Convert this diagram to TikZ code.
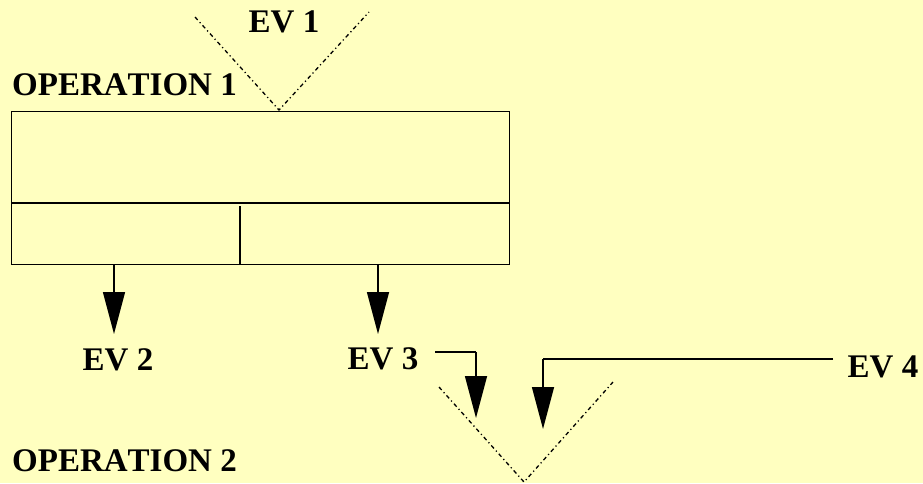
\documentclass[tikz,border=0pt]{standalone}
\usepackage{fontspec}
\setmainfont[Kerning=Off]{Liberation Serif}
\usetikzlibrary{arrows.meta}
\definecolor{bgyellow}{RGB}{255,255,192}
\begin{document}
\begin{tikzpicture}[x=1pt,y=-1pt,
  lbl/.style={font=\fontsize{33}{37}\selectfont\bfseries, inner sep=0pt},
  boxline/.style={line width=1.4pt},
  flow/.style={line width=1.4pt, -{Triangle[length=42pt,width=22pt]}},
  vline/.style={line width=1.3pt, dash pattern=on 4pt off 3pt on 1.2pt off 3pt},
  plain/.style={line width=1.4pt}]
\fill[bgyellow] (0,0) rectangle (923,483);
\useasboundingbox (0,0) rectangle (923,483);

% labels
\node[lbl] (ev1) at (284,22) {EV 1};
\node[lbl, anchor=west] (op1t) at (12,85) {OPERATION 1};
\node[lbl, anchor=west] (op2t) at (12,461) {OPERATION 2};
\node[lbl] (ev2) at (118,360) {EV 2};
\node[lbl] (ev3) at (383,359) {EV 3};
\node[lbl] (ev4) at (883,367) {EV 4};

% operation 1 box
\node[draw, boxline, minimum width=498pt, minimum height=153pt, inner sep=0pt, anchor=north west] (op1) at (11,111) {};
\draw[boxline] (11,203) -- (509,203);
\draw[boxline] (240,206) -- (240,264);

% EV1 input V
\coordinate (v1l) at (195,17);
\coordinate (v1b) at (279,110);
\coordinate (v1r) at (369,12);
\draw[vline] (v1l) -- (v1b) -- (v1r);

% outputs
\coordinate (o2s) at (114,264);
\coordinate (o2e) at (114,334);
\coordinate (o3s) at (378,264);
\coordinate (o3e) at (378,334);
\draw[flow] (o2s) -- (o2e);
\draw[flow] (o3s) -- (o3e);

% EV3 and EV4 into operation 2
\coordinate (e3a) at (435,352);
\coordinate (e3b) at (476,352);
\coordinate (e3t) at (476,418);
\draw[plain] (e3a) -- (e3b);
\draw[flow] (e3b) -- (e3t);

\coordinate (e4a) at (833,359);
\coordinate (e4b) at (543,359);
\coordinate (e4t) at (543,429);
\draw[plain] (e4a) -- (e4b);
\draw[flow] (e4b) -- (e4t);

% operation 2 input V
\coordinate (v2l) at (439,387);
\coordinate (v2b) at (524,482);
\coordinate (v2r) at (613,382);
\draw[vline] (v2l) -- (v2b) -- (v2r);
\end{tikzpicture}
\end{document}
